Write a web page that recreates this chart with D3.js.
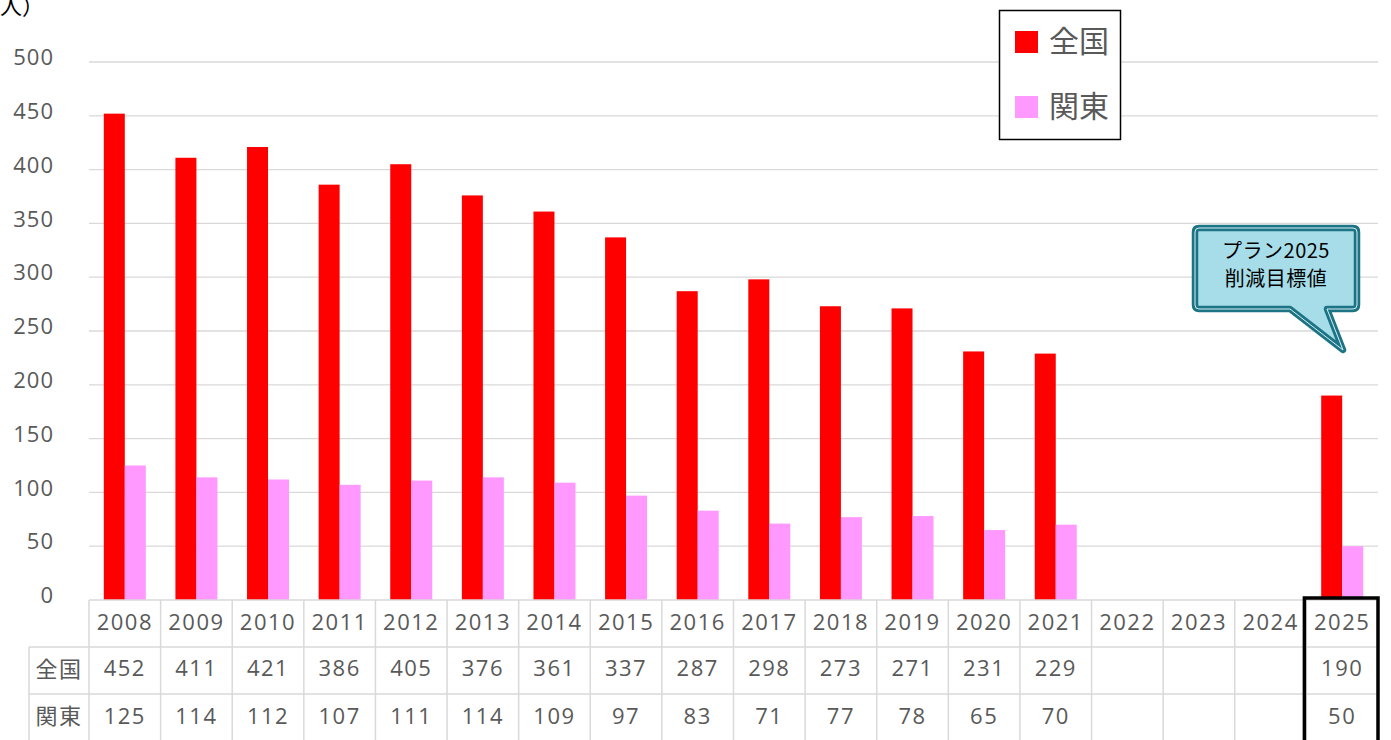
<!DOCTYPE html>
<html>
<head>
<meta charset="utf-8">
<script src="https://cdn.jsdelivr.net/npm/d3@7"></script>
<style>
  body { margin: 0; background: #fff; }
  svg { display: block; font-family: "Open Sans", "Noto Sans CJK JP", sans-serif; }
</style>
</head>
<body>
<script>
// data
var years = ["2008","2009","2010","2011","2012","2013","2014","2015","2016","2017","2018","2019","2020","2021","2022","2023","2024","2025"];
var zenkoku = [452, 411, 421, 386, 405, 376, 361, 337, 287, 298, 273, 271, 231, 229, null, null, null, 190];
var kanto = [125, 114, 112, 107, 111, 114, 109, 97, 83, 71, 77, 78, 65, 70, null, null, null, 50];
var seriesNames = ["全国", "関東"];
var seriesColors = ["#ff0000", "#ff99ff"];
var yTicks = [0, 50, 100, 150, 200, 250, 300, 350, 400, 450, 500];

var w = 1391, h = 740;
var plotLeft = 89, plotRight = 1378, plotTop = 62, plotBottom = 600;
var rowH = 47;
var gray = "#595959", lineGray = "#d9d9d9";
var jp = "'Noto Sans CJK JP', sans-serif";

var svg = d3.select("body").append("svg")
  .attr("width", w)
  .attr("height", h);

var x = d3.scaleBand().domain(years).range([plotLeft, plotRight]);
var xInner = d3.scaleBand().domain([0, 1]).range([0, 42]);
var y = d3.scaleLinear().domain([0, 500]).range([plotBottom, plotTop]);

// gridlines
svg.append("g").selectAll("line")
  .data(yTicks.slice(1))
  .enter().append("line")
  .attr("x1", plotLeft).attr("x2", plotRight)
  .attr("y1", function(d) { return y(d); })
  .attr("y2", function(d) { return y(d); })
  .attr("stroke", lineGray).attr("stroke-width", 1.3);

// y axis
var yAxis = svg.append("g")
  .attr("transform", "translate(54,0)")
  .call(d3.axisLeft(y).tickValues(yTicks).tickSize(0).tickPadding(0));
yAxis.select(".domain").remove();
yAxis.selectAll("text")
  .attr("font-size", 22).attr("fill", gray)
  .attr("font-family", "'Open Sans', sans-serif")
  .style("letter-spacing", "1px")
  .attr("dy", "0.12em");

// unit label, partly outside the top-left corner as in the original
svg.append("text")
  .attr("x", 44).attr("y", 14)
  .attr("text-anchor", "end")
  .attr("font-size", 22).attr("font-family", jp)
  .attr("fill", "#000")
  .text("（人）");

// bars
[zenkoku, kanto].forEach(function(vals, s) {
  svg.append("g").selectAll("rect")
    .data(years.map(function(yr, i) { return { year: yr, v: vals[i] }; }).filter(function(d) { return d.v != null; }))
    .enter().append("rect")
    .attr("x", function(d) { return x(d.year) + (x.bandwidth() - 42) / 2 + xInner(s); })
    .attr("width", xInner.bandwidth())
    .attr("y", function(d) { return y(d.v); })
    .attr("height", function(d) { return y(0) - y(d.v); })
    .attr("fill", seriesColors[s]);
});

// data table
var table = svg.append("g");
var labelLeft = 29;
// horizontal lines
table.append("line")
  .attr("x1", plotLeft).attr("x2", plotRight)
  .attr("y1", plotBottom).attr("y2", plotBottom)
  .attr("stroke", lineGray).attr("stroke-width", 1.5);
[1, 2, 3].forEach(function(r) {
  table.append("line")
    .attr("x1", labelLeft).attr("x2", plotRight)
    .attr("y1", plotBottom + rowH * r).attr("y2", plotBottom + rowH * r)
    .attr("stroke", lineGray).attr("stroke-width", 1.5);
});
// vertical lines
table.append("line")
  .attr("x1", labelLeft).attr("x2", labelLeft)
  .attr("y1", plotBottom + rowH).attr("y2", h)
  .attr("stroke", lineGray).attr("stroke-width", 1.5);
table.selectAll(".vline")
  .data(years.concat(["end"]))
  .enter().append("line")
  .attr("x1", function(d) { return d === "end" ? plotRight : x(d); })
  .attr("x2", function(d) { return d === "end" ? plotRight : x(d); })
  .attr("y1", plotBottom).attr("y2", h)
  .attr("stroke", lineGray).attr("stroke-width", 1.5);

function cellText(g, tx, ty, str, font) {
  g.append("text")
    .attr("x", tx).attr("y", ty)
    .attr("text-anchor", "middle")
    .attr("dominant-baseline", "central")
    .attr("font-size", 22).attr("fill", gray)
    .attr("font-family", font || "'Open Sans', sans-serif")
    .style("letter-spacing", "1.5px")
    .text(str);
}

years.forEach(function(yr, i) {
  var cx = x(yr) + x.bandwidth() / 2;
  cellText(table, cx, plotBottom + rowH * 0.5 - 3, yr);
  if (zenkoku[i] != null) cellText(table, cx, plotBottom + rowH * 1.5 - 4, zenkoku[i]);
  if (kanto[i] != null) cellText(table, cx, plotBottom + rowH * 2.5 - 3, kanto[i]);
});
seriesNames.forEach(function(name, s) {
  cellText(table, (labelLeft + plotLeft) / 2, plotBottom + rowH * (1.5 + s) - 4, name, jp);
});

// highlight of the target year
svg.append("rect")
  .attr("x", x("2025") - 2).attr("y", plotBottom - 2)
  .attr("width", x.bandwidth() + 2).attr("height", h)
  .attr("fill", "none").attr("stroke", "#000").attr("stroke-width", 3.5);

// legend
var legend = svg.append("g");
legend.append("rect")
  .attr("x", 999.5).attr("y", 10.5).attr("width", 121).attr("height", 129)
  .attr("fill", "#fff").attr("stroke", "#000").attr("stroke-width", 1.5);
seriesNames.forEach(function(name, s) {
  var ly = 31 + s * 65;
  legend.append("rect")
    .attr("x", 1015).attr("y", ly).attr("width", 23).attr("height", 22)
    .attr("fill", seriesColors[s]);
  legend.append("text")
    .attr("x", 1049).attr("y", ly + 8)
    .attr("dominant-baseline", "central")
    .attr("font-size", 30).attr("font-family", jp)
    .attr("fill", gray)
    .text(name);
});

// callout
var callout = "M1199,228 L1353,228 Q1357,228 1357,232 L1357,305 Q1357,309 1353,309 L1327,309 L1343,350 L1290,309 L1199,309 Q1195,309 1195,305 L1195,232 Q1195,228 1199,228 Z";
svg.append("path").attr("d", callout)
  .attr("fill", "#a7dde9").attr("stroke", "#1c7485").attr("stroke-width", 6.5)
  .attr("stroke-linejoin", "round");
svg.append("path").attr("d", callout)
  .attr("fill", "none").attr("stroke", "#d6f0f6").attr("stroke-width", 1)
  .attr("stroke-linejoin", "round");
["プラン2025", "削減目標値"].forEach(function(t, i) {
  svg.append("text")
    .attr("x", 1276).attr("y", 258 + i * 28)
    .attr("text-anchor", "middle")
    .attr("font-size", 20).attr("font-family", jp)
    .attr("fill", "#000")
    .style("letter-spacing", "0.5px")
    .text(t);
});
</script>
</body>
</html>
